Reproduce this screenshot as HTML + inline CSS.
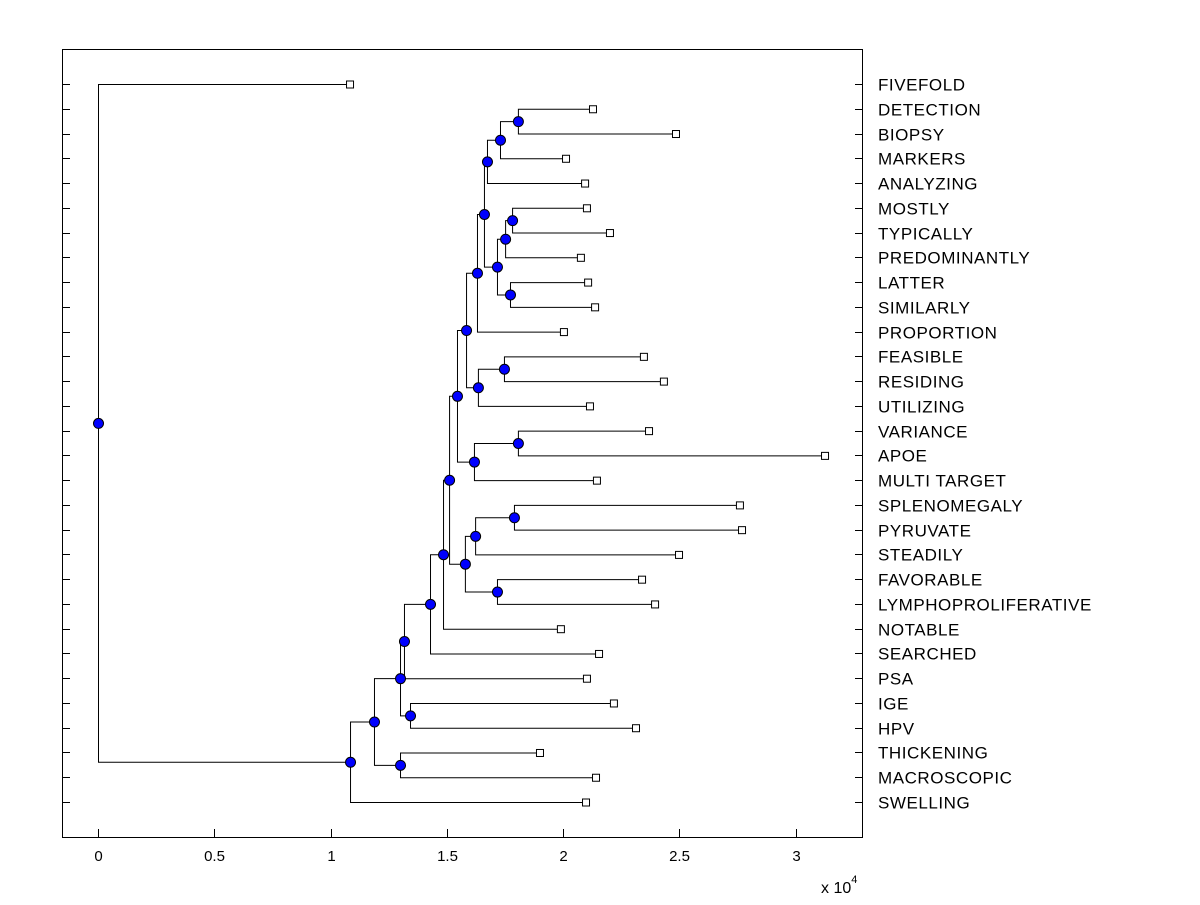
<!DOCTYPE html>
<html><head><meta charset="utf-8"><style>
html,body{margin:0;padding:0;background:#fff;}
svg text{font-family:"Liberation Sans",Arial,sans-serif;}
</style></head><body>
<svg id="chart" width="1200" height="900" xmlns="http://www.w3.org/2000/svg">
<rect x="0" y="0" width="1200" height="900" fill="#fff"/>
<rect x="62.5" y="49.5" width="800" height="788" fill="#fff" stroke="#000"/>
<g id="marks"></g>
<g id="axes"></g>
<text x="821" y="893" font-size="16">x 10<tspan dy="-10" font-size="11">4</tspan></text>
</svg>
<script>
const leafLabels = ["FIVEFOLD","DETECTION","BIOPSY","MARKERS","ANALYZING","MOSTLY","TYPICALLY","PREDOMINANTLY","LATTER","SIMILARLY","PROPORTION","FEASIBLE","RESIDING","UTILIZING","VARIANCE","APOE","MULTI TARGET","SPLENOMEGALY","PYRUVATE","STEADILY","FAVORABLE","LYMPHOPROLIFERATIVE","NOTABLE","SEARCHED","PSA","IGE","HPV","THICKENING","MACROSCOPIC","SWELLING"];
const leafValues = [1.084,2.129,2.486,2.013,2.095,2.103,2.202,2.077,2.108,2.138,2.004,2.348,2.434,2.116,2.370,3.127,2.146,2.761,2.770,2.499,2.340,2.396,1.991,2.155,2.103,2.219,2.314,1.901,2.142,2.099];
const mergeLeft  = [1,30,31,5,33,8,34,32,37,11,39,38,14,42,41,17,45,20,46,44,49,50,25,51,53,27,54,56,0];
const mergeRight = [2,3,4,6,7,9,35,36,10,12,13,40,15,16,43,18,19,21,47,48,22,23,26,24,52,28,55,29,57];
const mergeHeight= [1.806,1.729,1.673,1.781,1.751,1.772,1.716,1.660,1.630,1.746,1.634,1.583,1.806,1.617,1.544,1.789,1.622,1.716,1.578,1.510,1.484,1.428,1.342,1.316,1.299,1.299,1.187,1.084,0];
const xTicks = [0,0.5,1,1.5,2,2.5,3];
const xTickLabels = ["0","0.5","1","1.5","2","2.5","3"];

const NS="http://www.w3.org/2000/svg";
const xScale = v => 98 + v*232.5;
const yScale = i => 84 + i*(718/29);
function mk(tag, attrs, parent){const e=document.createElementNS(NS,tag);for(const k in attrs)e.setAttribute(k,attrs[k]);parent.appendChild(e);return e;}
const marks=document.getElementById('marks'), axes=document.getElementById('axes');
const nodeY={}, nodeX={};
leafLabels.forEach((l,i)=>{nodeY[i]=yScale(i);nodeX[i]=xScale(leafValues[i]);});
const lines=mk('g',{},marks), dots=mk('g',{},marks);




mergeLeft.forEach((a,k)=>{
  const b=mergeRight[k], id=30+k, x=xScale(mergeHeight[k]);
  const ya=nodeY[a], yb=nodeY[b];
  const p=mk('path',{d:`M${nodeX[a]},${ya+0.5}H${x+0.5}V${yb+0.5}H${nodeX[b]}`,fill:'none',stroke:'#000','stroke-width':1},lines);
  
  
  nodeX[id]=x; nodeY[id]=(ya+yb)/2;
});
leafLabels.forEach((l,i)=>{
  const r=mk('rect',{x:nodeX[i]-3.5,y:nodeY[i]-3,width:7,height:7,fill:'#fff',stroke:'#000'},dots);
  
  
});
mergeLeft.forEach((a,k)=>{
  const id=30+k;
  const c=mk('circle',{cx:nodeX[id]+0.5,cy:nodeY[id]+0.5,r:5,fill:'#0000ff',stroke:'#000'},dots);
  
  
});
leafLabels.forEach((l,i)=>{
  const y=Math.round(yScale(i))+0.5;
  const t1=mk('line',{x1:62,x2:70,y1:y,y2:y,stroke:'#000'},axes);
  
  
  const t2=mk('line',{x1:855,x2:862,y1:y,y2:y,stroke:'#000'},axes);
  
  
  const t=mk('text',{x:878,y:y+6,'font-size':17,'letter-spacing':0.55},axes);
  t.textContent=l;
  
  
});
xTicks.forEach((v,i)=>{
  const x=Math.round(xScale(v))+0.5;
  const t=mk('line',{x1:x,x2:x,y1:829,y2:837,stroke:'#000'},axes);
  
  
  const lb=mk('text',{x:x,y:861,'font-size':15,'text-anchor':'middle'},axes);
  lb.textContent=xTickLabels[i];
  
  
});
</script>
</body></html>
